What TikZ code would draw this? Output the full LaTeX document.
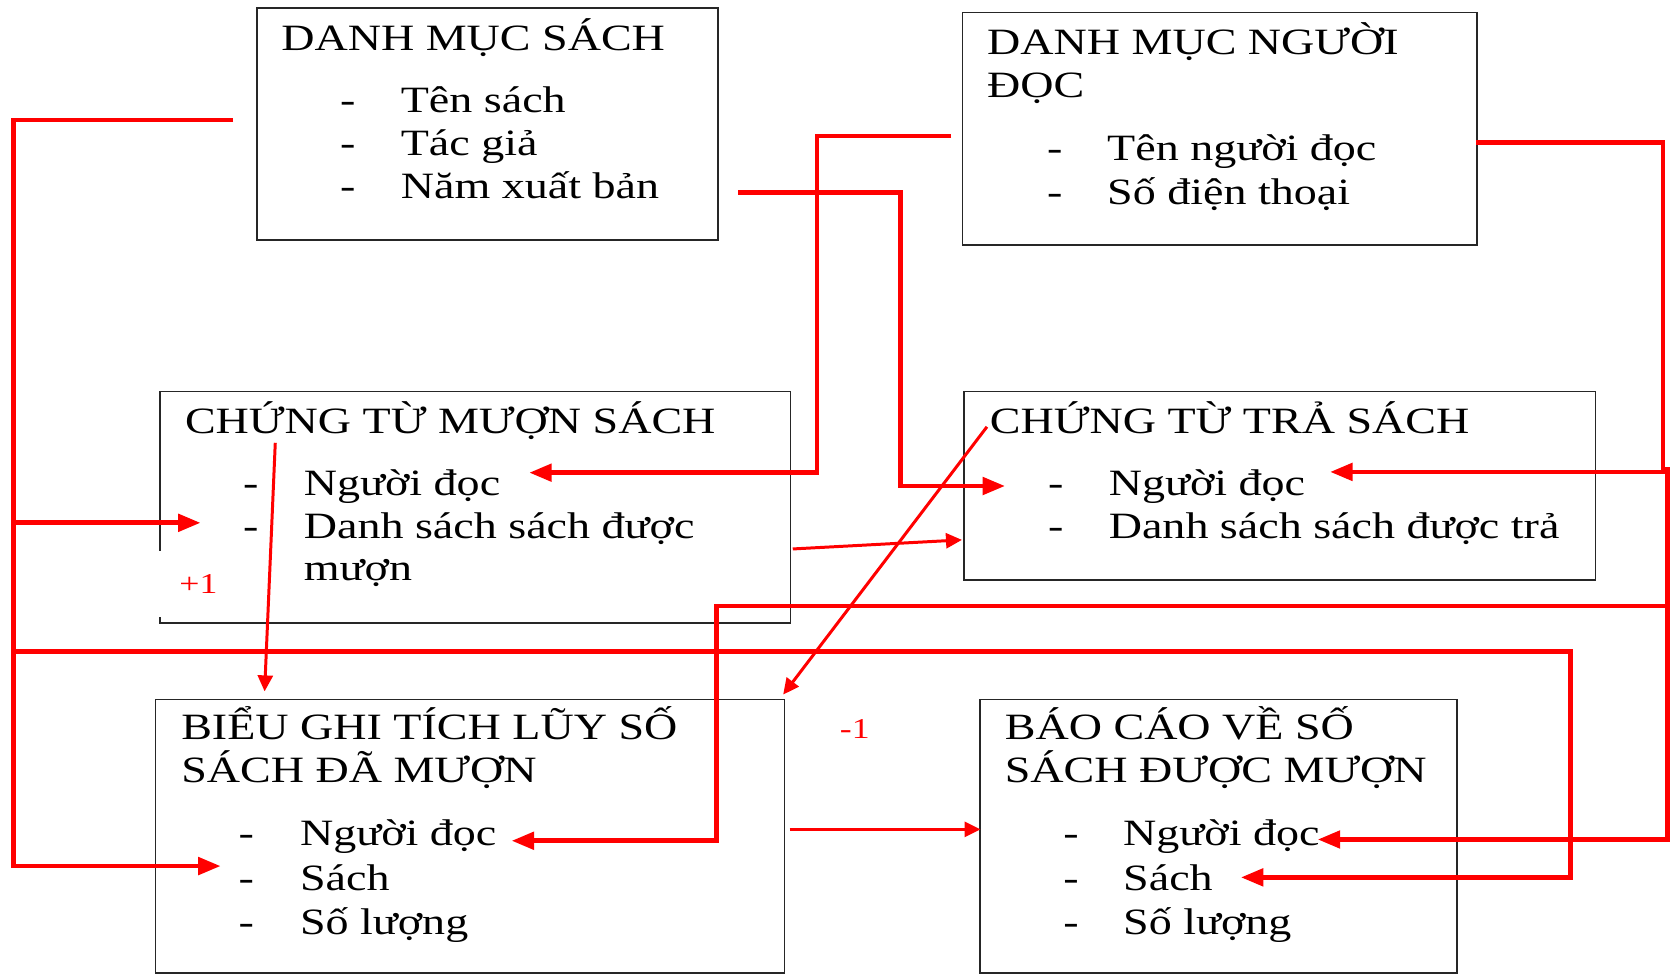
\documentclass[tikz,border=0pt]{standalone}
\usepackage{fontspec}
\setmainfont{Liberation Serif}[FakeStretch=1.24]
\usetikzlibrary{arrows.meta}
\begin{document}
\begin{tikzpicture}[x=1pt,y=-1pt,
  box/.style={draw=black!85, line width=1.5pt, inner sep=0pt, anchor=north west},
  txt/.style={anchor=base west, inner sep=0pt, font=\fontsize{34.8}{41}\selectfont},
  dsh/.style={anchor=base, inner sep=0pt, font=\fontsize{34.8}{41}\selectfont},
  num/.style={inner sep=0pt, text=red, font=\fontsize{27}{31}\selectfont},
  bigarrow/.style={draw=red, line width=4.4pt, -{Triangle[length=21pt,width=16pt]}},
  smallarrow/.style={draw=red, line width=2.8pt, -{Triangle[length=15pt,width=14pt]}}]
\useasboundingbox (0,0) rectangle (1568,912);
\fill[white] (0,0) rectangle (1568,912);

% boxes
\node[box, minimum width=432pt, minimum height=217.5pt] (b1) at (240,6.5) {};
\node[box, minimum width=482pt, minimum height=218pt] (b2) at (901.5,11) {};
\node[box, minimum width=591pt, minimum height=217pt] (b3) at (149,366) {};
\node[box, minimum width=591.5pt, minimum height=177pt] (b4) at (903,366) {};
\node[box, minimum width=589.5pt, minimum height=256pt] (b5) at (145,655) {};
\node[box, minimum width=446.6pt, minimum height=256pt] (b6) at (918,655) {};

% box 1
\node[txt] (t1) at (263.5,47) {DANH MỤC SÁCH};
\node[dsh] (d11) at (326,105.6) {-};
\node[txt] (i11) at (375.5,105.6) {Tên sách};
\node[dsh] (d12) at (326,145.3) {-};
\node[txt] (i12) at (375.5,145.3) {Tác giả};
\node[dsh] (d13) at (326,186.5) {-};
\node[txt] (i13) at (375.5,186.5) {Năm xuất bản};

% box 2
\node[txt] (t2a) at (925,50.9) {DANH MỤC NGƯỜI};
\node[txt] (t2b) at (925,91.2) {ĐỌC};
\node[dsh] (d21) at (988.5,150.6) {-};
\node[txt] (i21) at (1037.5,150.6) {Tên người đọc};
\node[dsh] (d22) at (988.5,191.2) {-};
\node[txt] (i22) at (1037.5,191.2) {Số điện thoại};

% box 3
\node[txt] (t3) at (173.2,405.9) {CHỨNG TỪ MƯỢN SÁCH};
\node[dsh] (d31) at (235,464) {-};
\node[txt] (i31) at (284.6,464) {Người đọc};
\node[dsh] (d32) at (235,504.3) {-};
\node[txt] (i32) at (284.6,504.3) {Danh sách sách được};
\node[txt] (i33) at (284.6,544) {mượn};

% box 4
\node[txt] (t4) at (927.6,405.9) {CHỨNG TỪ TRẢ SÁCH};
\node[dsh] (d41) at (989.5,464) {-};
\node[txt] (i41) at (1039,464) {Người đọc};
\node[dsh] (d42) at (989.5,505) {-};
\node[txt] (i42) at (1039,505) {Danh sách sách được trả};

% box 5
\node[txt] (t5a) at (169.7,693) {BIỂU GHI TÍCH LŨY SỐ};
\node[txt] (t5b) at (169.7,733.7) {SÁCH ĐÃ MƯỢN};
\node[dsh] (d51) at (230.8,792) {-};
\node[txt] (i51) at (281,792) {Người đọc};
\node[dsh] (d52) at (230.8,834.7) {-};
\node[txt] (i52) at (281,834.7) {Sách};
\node[dsh] (d53) at (230.8,875.5) {-};
\node[txt] (i53) at (281,875.5) {Số lượng};

% box 6
\node[txt] (t6a) at (941.6,693) {BÁO CÁO VỀ SỐ};
\node[txt] (t6b) at (941.6,733.7) {SÁCH ĐƯỢC MƯỢN};
\node[dsh] (d61) at (1003.7,792) {-};
\node[txt] (i61) at (1052.5,792) {Người đọc};
\node[dsh] (d62) at (1003.7,834.7) {-};
\node[txt] (i62) at (1052.5,834.7) {Sách};
\node[dsh] (d63) at (1003.7,875.5) {-};
\node[txt] (i63) at (1052.5,875.5) {Số lượng};

% red labels
\node[num, fill=white, minimum width=76pt, minimum height=62pt] (plus) at (186,547) {+1};
\node[num, anchor=base west] (minus) at (787,692) {-1};

% connector end points
\coordinate (p1s) at (218.4,112.5);
\coordinate (p1a) at (188,490);
\coordinate (p1b) at (206.8,811.7);
\coordinate (p1c) at (1163,822.3);
\coordinate (p2s) at (891.5,127.5);
\coordinate (p2e) at (496,443);
\coordinate (p3s) at (692,180.6);
\coordinate (p3e) at (942,455.5);
\coordinate (p4s) at (1383.5,133.7);
\coordinate (p4a) at (1246.6,442.3);
\coordinate (p4b) at (1235,786.8);
\coordinate (p4c) at (479.5,788);
\coordinate (qa1) at (258,415);
\coordinate (qa2) at (248,648);
\coordinate (qb1) at (925,400);
\coordinate (qb2) at (734,651);
\coordinate (qc1) at (743,514.5);
\coordinate (qc2) at (901.6,506);
\coordinate (qd1) at (740,777.3);
\coordinate (qd2) at (919,777.3);

% thick connectors
\draw[bigarrow] (p1s) -- (12.5,112.5) -- (12.5,811.7) -- (p1b);
\draw[bigarrow] (12.5,490) -- (p1a);
\draw[bigarrow] (12.5,610.7) -- (1472,610.7) -- (1472,822.3) -- (p1c);
\draw[bigarrow] (p2s) -- (765.6,127.5) -- (765.6,443) -- (p2e);
\draw[bigarrow] (p3s) -- (844,180.6) -- (844,455.5) -- (p3e);
\draw[bigarrow] (p4s) -- (1558.5,133.7) -- (1558.5,442.3) -- (p4a);
\draw[bigarrow] (1562.5,438) -- (1562.5,786.8) -- (p4b);
\draw[bigarrow] (1562.5,568) -- (671.7,568) -- (671.7,788) -- (p4c);

% thin connectors
\draw[smallarrow] (qa1) -- (qa2);
\draw[smallarrow] (qb1) -- (qb2);
\draw[smallarrow] (qc1) -- (qc2);
\draw[smallarrow] (qd1) -- (qd2);
\end{tikzpicture}
\end{document}
